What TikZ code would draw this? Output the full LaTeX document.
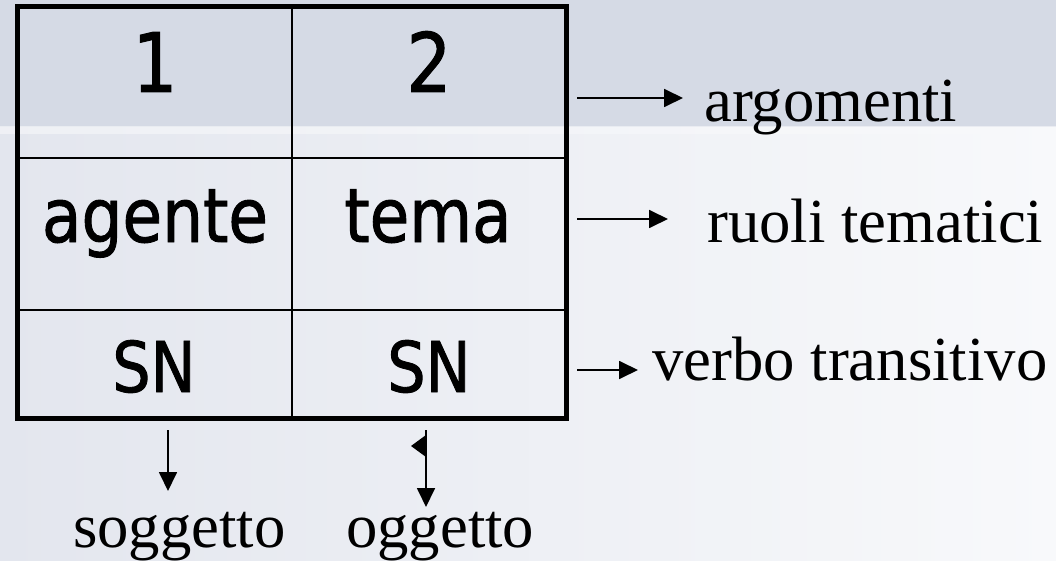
\documentclass[tikz,border=0pt]{standalone}
\usepackage{fontspec}
\setmainfont{Liberation Serif}
\newfontfamily\tah[FakeStretch=0.86,FakeBold=1.2]{DejaVu Sans}
\usetikzlibrary{arrows.meta}
\definecolor{band}{HTML}{D5DAE5}
\definecolor{bgL}{HTML}{E3E6EE}
\definecolor{bgR}{HTML}{F8F9FB}
\begin{document}
\begin{tikzpicture}[x=1pt,y=-1pt,
  cell/.style={anchor=base,inner sep=0pt},
  lab/.style={anchor=base west,inner sep=0pt,font=\fontsize{62.7}{70}\selectfont},
  outer/.style={line width=5pt,line cap=rect},
  inner/.style={line width=2.5pt},
  arr/.style={line width=1.8pt,-{Triangle[length=19pt,width=18pt]}}]
\useasboundingbox (0,0) rectangle (1056,561);
% background
\shade[left color=bgL,right color=bgR] (0,127) rectangle (1056,561);
\fill[band] (0,0) rectangle (1056,127);
\shade[left color=white!70!bgL,right color=bgR,opacity=0.6] (0,127) rectangle (1056,134);
% table
\draw[inner] (292,7) -- (292,418);
\draw[inner] (17,158) -- (566,158);
\draw[inner] (17,310) -- (566,310);
\draw[outer] (17,7) rectangle (566,418);
% cell texts
\node[cell,font=\tah\fontsize{82}{82}\selectfont] (c11) at (155,92) {1};
\node[cell,font=\tah\fontsize{82}{82}\selectfont] (c12) at (429,92) {2};
\node[cell,font=\tah\fontsize{75}{75}\selectfont] (c21) at (155,242) {agente};
\node[cell,font=\tah\fontsize{75}{75}\selectfont] (c22) at (428,242) {tema};
\node[cell,font=\tah\fontsize{70}{70}\selectfont] (c31) at (154,392) {SN};
\node[cell,font=\tah\fontsize{70}{70}\selectfont] (c32) at (429,392) {SN};
% right labels
\node[lab] (arg) at (704,122) {argomenti};
\node[lab] (ruoli) at (707,243) {ruoli tematici};
\node[lab] (verbo) at (652,380) {verbo transitivo};
% bottom labels
\node[lab] (sogg) at (73,547) {soggetto};
\node[lab] (ogg) at (346,547) {oggetto};
% arrow endpoints
\coordinate (a1s) at (577,98);  \coordinate (a1e) at (683,98);
\coordinate (a2s) at (577,219); \coordinate (a2e) at (668,219);
\coordinate (a3s) at (577,370); \coordinate (a3e) at (638,370);
\coordinate (b1s) at (168,430); \coordinate (b1e) at (168,491);
\coordinate (b2s) at (426,430); \coordinate (b2e) at (426,507);
\draw[arr] (a1s) -- (a1e);
\draw[arr] (a2s) -- (a2e);
\draw[arr] (a3s) -- (a3e);
\draw[arr] (b1s) -- (b1e);
\draw[arr] (b2s) -- (b2e);
\fill (411,446) -- (426,435) -- (426,457) -- cycle;
\end{tikzpicture}
\end{document}
